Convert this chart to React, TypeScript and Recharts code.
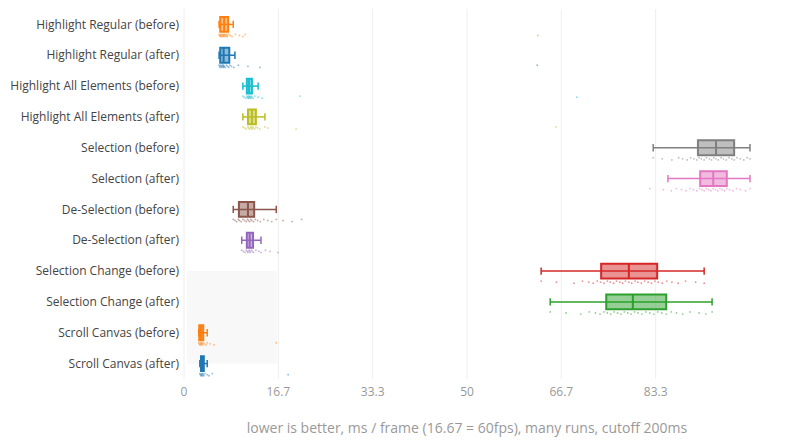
import {
  ComposedChart,
  Scatter,
  XAxis,
  YAxis,
  CartesianGrid,
  ReferenceArea,
  ReferenceLine,
} from "recharts";

// row labels, top to bottom
const categories = [
  "Highlight Regular (before)",
  "Highlight Regular (after)",
  "Highlight All Elements (before)",
  "Highlight All Elements (after)",
  "Selection (before)",
  "Selection (after)",
  "De-Selection (before)",
  "De-Selection (after)",
  "Selection Change (before)",
  "Selection Change (after)",
  "Scroll Canvas (before)",
  "Scroll Canvas (after)",
];

const colors = [
  "#ff7f0e", "#1f77b4", "#17becf", "#bcbd22", "#7f7f7f", "#e377c2",
  "#8c564b", "#9467bd", "#d62728", "#2ca02c", "#ff7f0e", "#1f77b4",
];

// box stats (ms / frame)
const whiskerLow = [6.2, 6.2, 10.4, 10.4, 82.9, 85.5, 8.7, 10.2, 63.1, 64.7, 2.6, 2.8];
const q1 = [6.4, 6.4, 11.1, 11.3, 90.8, 91.2, 9.7, 11.1, 73.7, 74.6, 2.7, 3.0];
const median = [7.1, 7.0, 11.5, 12.0, 94.0, 93.5, 11.3, 11.6, 78.6, 79.3, 3.0, 3.2];
const q3 = [7.8, 8.0, 12.0, 12.7, 97.2, 95.9, 12.4, 12.2, 83.6, 85.2, 3.4, 3.5];
const whiskerHigh = [8.7, 9.0, 13.1, 14.3, 100, 100, 16.3, 13.6, 91.9, 93.3, 4.1, 4.1];

// individual runs
const hlRegBefore = [6.2, 6.3, 6.4, 6.5, 6.5, 6.6, 6.7, 6.8, 6.9, 7.0, 7.0, 7.1, 7.2, 7.3, 7.4, 7.5, 7.6, 7.7, 7.9, 8.2, 8.5, 9.1, 9.8, 10.4, 10.8, 62.5];
const hlRegAfter = [6.2, 6.3, 6.4, 6.5, 6.6, 6.7, 6.8, 6.9, 7.0, 7.0, 7.1, 7.3, 7.5, 7.7, 7.9, 8.1, 8.4, 8.8, 9.6, 11.3, 13.4, 62.4];
const hlAllBefore = [10.4, 10.6, 10.9, 11.1, 11.2, 11.3, 11.4, 11.5, 11.5, 11.6, 11.7, 11.8, 11.9, 12.0, 12.2, 12.5, 13.1, 13.8, 20.5, 69.4];
const hlAllAfter = [10.4, 10.7, 11.0, 11.3, 11.4, 11.6, 11.8, 11.9, 12.0, 12.1, 12.3, 12.5, 12.7, 13.0, 13.4, 14.3, 14.8, 19.8, 65.7];
const selBefore = [82.9, 84.5, 86.2, 87.4, 88.1, 88.9, 89.5, 90.1, 90.6, 91.0, 91.4, 91.9, 92.3, 92.8, 93.2, 93.6, 94.0, 94.4, 94.9, 95.3, 95.8, 96.3, 96.8, 97.2, 97.7, 98.3, 98.9, 99.5, 100];
const selAfter = [82.3, 84.7, 86.1, 87.0, 87.9, 88.7, 89.4, 90.0, 90.6, 91.1, 91.5, 91.9, 92.3, 92.7, 93.1, 93.5, 93.9, 94.3, 94.7, 95.1, 95.5, 95.9, 96.4, 97.0, 97.6, 98.3, 99.2, 100];
const deselBefore = [8.7, 9.0, 9.3, 9.6, 9.8, 10.1, 10.4, 10.7, 11.0, 11.2, 11.4, 11.6, 11.8, 12.0, 12.3, 12.6, 13.0, 13.5, 14.1, 14.8, 15.5, 16.3, 17.5, 19.1, 20.8];
const deselAfter = [10.2, 10.5, 10.8, 11.0, 11.2, 11.3, 11.5, 11.6, 11.7, 11.9, 12.1, 12.3, 12.7, 13.2, 13.6, 14.4, 15.2, 16.6];
const selChBefore = [63.1, 65.8, 68.9, 70.4, 71.5, 72.3, 73.0, 73.6, 74.2, 74.8, 75.3, 75.9, 76.4, 77.0, 77.5, 78.0, 78.6, 79.1, 79.7, 80.2, 80.8, 81.4, 82.0, 82.6, 83.2, 83.8, 84.5, 85.3, 86.2, 87.3, 88.6, 90.4, 91.9];
const selChAfter = [64.7, 67.5, 70.1, 71.6, 72.7, 73.5, 74.2, 74.8, 75.4, 76.0, 76.6, 77.2, 77.8, 78.4, 79.0, 79.6, 80.2, 80.9, 81.6, 82.3, 83.0, 83.7, 84.4, 85.2, 86.1, 87.0, 88.1, 89.4, 91.0, 92.2, 93.3];
const scrollBefore = [2.6, 2.7, 2.8, 2.9, 3.0, 3.0, 3.1, 3.2, 3.3, 3.4, 3.6, 3.9, 4.1, 4.6, 5.3, 16.3];
const scrollAfter = [2.8, 2.9, 3.0, 3.1, 3.1, 3.2, 3.3, 3.4, 3.5, 3.7, 4.1, 4.4, 5.0, 18.4];

const samples = [
  hlRegBefore, hlRegAfter, hlAllBefore, hlAllAfter, selBefore, selAfter,
  deselBefore, deselAfter, selChBefore, selChAfter, scrollBefore, scrollAfter,
];

const xTicks = [0, 100 / 6, 200 / 6, 50, 400 / 6, 500 / 6];

const font = '"Open Sans", sans-serif';

function RowTick(props: any) {
  const { x, y, payload } = props;
  return (
    <text x={x} y={y} dy="0.35em" textAnchor="end" fill="#444" fontSize={12} fontFamily={font}>
      {categories[Math.round(payload.value - 0.5)]}
    </text>
  );
}

export default function App() {
  const rowTicks = categories.map((_, i) => i + 0.5);

  return (
    <div style={{ width: 800, height: 440, background: "#fff" }}>
      <style>{`body{margin:0}`}</style>
      <ComposedChart
        width={800}
        height={440}
        margin={{ top: 9, right: 50, bottom: 0, left: 0 }}
        style={{ fontFamily: font }}
      >
        <CartesianGrid horizontal={false} stroke="#eeeeee" verticalValues={xTicks} />
        <XAxis
          type="number"
          dataKey="x"
          domain={[0, 100]}
          ticks={xTicks}
          tickFormatter={(v: number) => String(Math.round(v * 10) / 10)}
          axisLine={false}
          tickLine={false}
          tickSize={6}
          tickMargin={2}
          height={61}
          tick={{ fill: "#999", fontSize: 12 }}
          label={{
            value: "lower is better, ms / frame (16.67 = 60fps), many runs, cutoff 200ms",
            position: "insideBottom",
            offset: 7,
            fill: "#999",
            fontSize: 14,
          }}
        />
        <YAxis
          type="number"
          dataKey="y"
          domain={[0, 12]}
          reversed
          ticks={rowTicks}
          interval={0}
          axisLine={false}
          tickLine={false}
          tickSize={3}
          tickMargin={2}
          width={184}
          tick={<RowTick />}
        />

        <ReferenceArea
          x1={0.5}
          x2={16.4}
          y1={8.5}
          y2={11.5}
          fill="#f8f8f8"
          fillOpacity={1}
          stroke="none"
        />

        {categories.map((c, i) => (
          <ReferenceLine
            key={"w" + c}
            segment={[
              { x: whiskerLow[i], y: i + 0.5 },
              { x: whiskerHigh[i], y: i + 0.5 },
            ]}
            stroke={colors[i]}
            strokeWidth={1.5}
          />
        ))}
        {categories.map((c, i) => (
          <ReferenceLine
            key={"lc" + c}
            segment={[
              { x: whiskerLow[i], y: i + 0.38 },
              { x: whiskerLow[i], y: i + 0.62 },
            ]}
            stroke={colors[i]}
            strokeWidth={1.5}
          />
        ))}
        {categories.map((c, i) => (
          <ReferenceLine
            key={"hc" + c}
            segment={[
              { x: whiskerHigh[i], y: i + 0.38 },
              { x: whiskerHigh[i], y: i + 0.62 },
            ]}
            stroke={colors[i]}
            strokeWidth={1.5}
          />
        ))}
        {categories.map((c, i) => (
          <ReferenceArea
            key={"b" + c}
            x1={q1[i]}
            x2={q3[i]}
            y1={i + 0.26}
            y2={i + 0.74}
            fill={colors[i]}
            fillOpacity={0.5}
            stroke={colors[i]}
            strokeWidth={2}
            strokeOpacity={1}
          />
        ))}
        {categories.map((c, i) => (
          <ReferenceLine
            key={"m" + c}
            segment={[
              { x: median[i], y: i + 0.26 },
              { x: median[i], y: i + 0.74 },
            ]}
            stroke={colors[i]}
            strokeWidth={2}
          />
        ))}

        {categories.map((c, i) => (
          <Scatter
            key={"p" + c}
            name={c}
            data={samples[i].map((v, k) => ({
              x: v,
              y: i + 0.86 + ((k % 3) - 1) * 0.035,
            }))}
            isAnimationActive={false}
            shape={(p: any) => (
              <circle cx={p.cx} cy={p.cy} r={0.9} fill={colors[i]} fillOpacity={0.5} />
            )}
          />
        ))}
      </ComposedChart>
    </div>
  );
}
